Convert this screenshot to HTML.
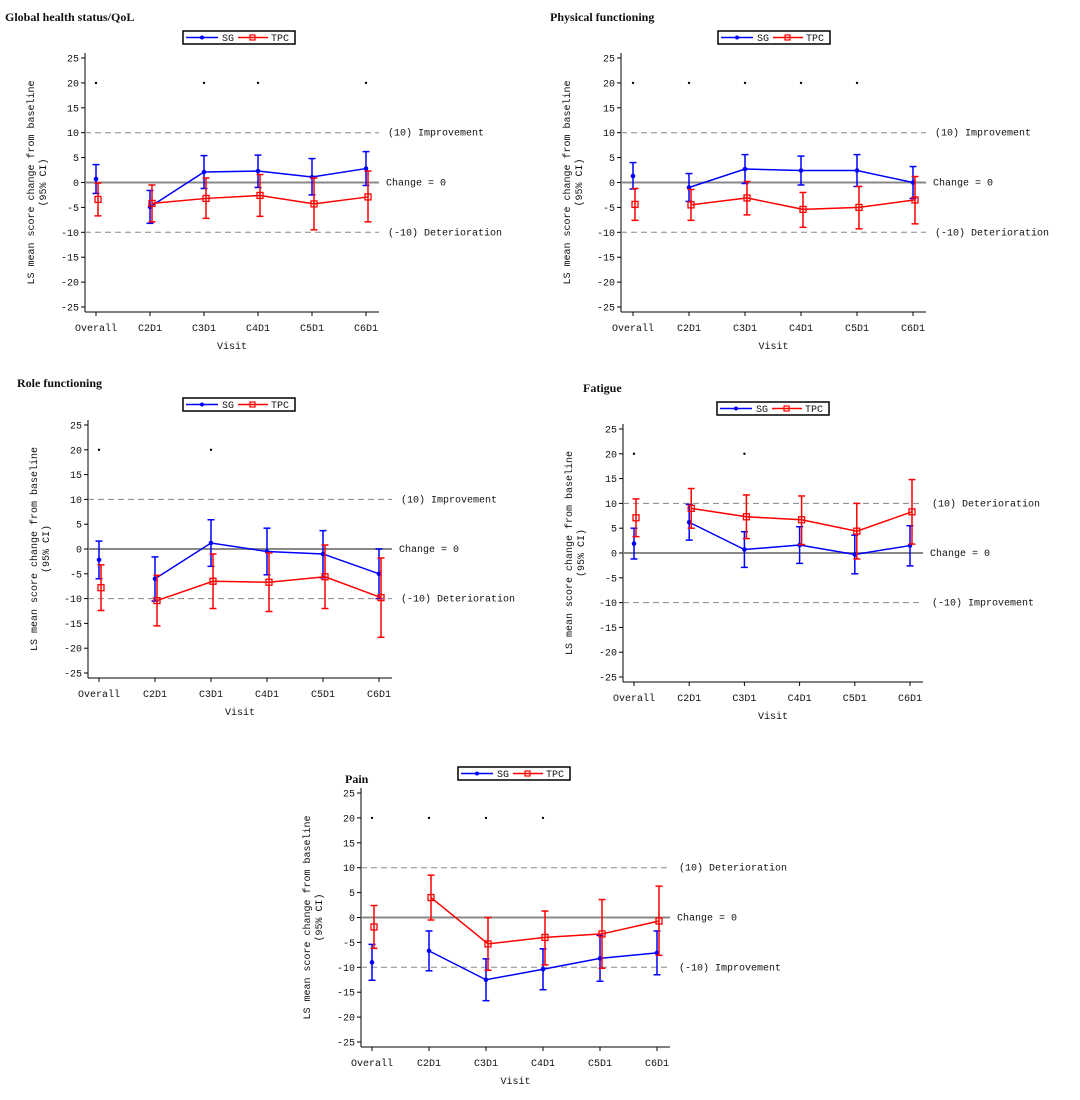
<!DOCTYPE html>
<html><head><meta charset="utf-8"><style>
body{margin:0;background:#fff;}
svg text{font-family:"Liberation Mono",monospace;font-size:10px;fill:#111;}
svg text.t{font-family:"Liberation Serif",serif;font-weight:bold;font-size:12px;}
</style></head><body>
<svg id="s" width="1080" height="1095" xmlns="http://www.w3.org/2000/svg"></svg>
<script>
const P=[
{title:"Global health status/QoL",tx:5,ty:21,ax:85,y25:58,yn25:307,x0:96,step:54,leg:[183,31],lab:["(10)  Improvement","(-10)  Deterioration"],stars:[0,2,3,5],
 sg:[[0.7,-2.2,3.6],[-4.9,-8.2,-1.6],[2.1,-1.2,5.4],[2.3,-1,5.5],[1.1,-2.5,4.8],[2.8,-0.6,6.2]],
 tpc:[[-3.4,-6.7,-0.1],[-4.2,-7.9,-0.5],[-3.2,-7.2,0.9],[-2.6,-6.8,1.6],[-4.3,-9.5,0.9],[-2.9,-7.9,2.3]]},
{title:"Physical functioning",tx:550,ty:21,ax:621,y25:58,yn25:307,x0:633,step:56,leg:[718,31],lab:["(10)  Improvement","(-10)  Deterioration"],stars:[0,1,2,3,4],
 sg:[[1.3,-1.3,4],[-1,-3.8,1.8],[2.7,-0.2,5.6],[2.4,-0.5,5.3],[2.4,-0.8,5.6],[0,-3.2,3.2]],
 tpc:[[-4.4,-7.6,-1.2],[-4.5,-7.6,-1.4],[-3.1,-6.5,0.2],[-5.4,-9,-2],[-5,-9.3,-0.8],[-3.5,-8.3,1.2]]},
{title:"Role functioning",tx:17,ty:387,ax:88,y25:425,yn25:673,x0:99,step:56,leg:[183,398],lab:["(10)  Improvement","(-10)  Deterioration"],stars:[0,2],
 sg:[[-2.2,-6,1.6],[-6,-10.5,-1.6],[1.2,-3.5,5.9],[-0.5,-5.2,4.2],[-1,-5.8,3.7],[-5,-10,0]],
 tpc:[[-7.8,-12.4,-3.2],[-10.4,-15.5,-5.3],[-6.5,-12,-1],[-6.7,-12.6,-0.8],[-5.6,-12,0.8],[-9.8,-17.8,-1.8]]},
{title:"Fatigue",tx:583,ty:392,ax:623,y25:429,yn25:677,x0:634,step:55.2,leg:[717,402],lab:["(10)  Deterioration","(-10)  Improvement"],stars:[0,2],
 sg:[[1.9,-1.2,5],[6.2,2.6,9.8],[0.7,-2.9,4.3],[1.6,-2.1,5.3],[-0.3,-4.2,3.6],[1.5,-2.6,5.5]],
 tpc:[[7.1,3.3,10.9],[9,5,13],[7.3,2.9,11.7],[6.7,1.7,11.5],[4.4,-1.2,10],[8.3,1.8,14.8]]},
{title:"Pain",tx:345,ty:783,ax:361,y25:793,yn25:1042,x0:372,step:57,leg:[458,767],lab:["(10)  Deterioration","(-10)  Improvement"],stars:[0,1,2,3],
 sg:[[-9,-12.6,-5.4],[-6.7,-10.7,-2.7],[-12.5,-16.7,-8.3],[-10.4,-14.5,-6.3],[-8.2,-12.8,-3.6],[-7.1,-11.5,-2.7]],
 tpc:[[-1.9,-6.2,2.4],[4,-0.5,8.5],[-5.3,-10.6,0],[-4,-9.5,1.3],[-3.3,-10.2,3.6],[-0.7,-7.6,6.3]]}
];
const V=["Overall","C2D1","C3D1","C4D1","C5D1","C6D1"];
let h="";
for(const p of P){
 const Y=v=>p.y25+(25-v)*(p.yn25-p.y25)/50;
 const X=i=>p.x0+i*p.step;
 const bot=p.yn25+5, right=X(5)+13;
 h+=`<text class="t" x="${p.tx}" y="${p.ty}">${p.title}</text>`;
 const [lx,ly]=p.leg;
 h+=`<rect x="${lx}" y="${ly}" width="112" height="13" fill="#fff" stroke="#000" stroke-width="1.5"/>
 <line x1="${lx+3}" y1="${ly+6.5}" x2="${lx+35}" y2="${ly+6.5}" stroke="#00f" stroke-width="1.5"/><circle cx="${lx+19}" cy="${ly+6.5}" r="2" fill="#00f"/>
 <text x="${lx+39}" y="${ly+10}">SG</text>
 <line x1="${lx+55}" y1="${ly+6.5}" x2="${lx+85}" y2="${ly+6.5}" stroke="#f00" stroke-width="1.5"/><rect x="${lx+67}" y="${ly+4}" width="5" height="5" fill="none" stroke="#f00" stroke-width="1.2"/>
 <text x="${lx+88}" y="${ly+10}">TPC</text>`;
 h+=`<line x1="${p.ax}" y1="${p.y25-5}" x2="${p.ax}" y2="${bot}" stroke="#000"/><line x1="${p.ax}" y1="${bot}" x2="${right}" y2="${bot}" stroke="#000"/>`;
 for(let v=25;v>=-25;v-=5){h+=`<line x1="${p.ax-4}" y1="${Y(v)}" x2="${p.ax}" y2="${Y(v)}" stroke="#000"/><text x="${p.ax-6}" y="${Y(v)+3.5}" text-anchor="end">${v}</text>`;}
 V.forEach((n,i)=>{h+=`<line x1="${X(i)}" y1="${bot}" x2="${X(i)}" y2="${bot+4}" stroke="#000"/><text x="${X(i)}" y="${bot+19}" text-anchor="middle">${n}</text>`;});
 h+=`<text x="${(p.ax+right)/2}" y="${bot+37}" text-anchor="middle">Visit</text>`;
 const cy=(p.y25+p.yn25)/2;
 h+=`<text transform="translate(${p.ax-51},${cy}) rotate(-90)" text-anchor="middle">LS mean score change from baseline</text><text transform="translate(${p.ax-39},${cy}) rotate(-90)" text-anchor="middle">(95% CI)</text>`;
 h+=`<line x1="${p.ax}" y1="${Y(10)}" x2="${right}" y2="${Y(10)}" stroke="#888" stroke-dasharray="6,4"/><line x1="${p.ax}" y1="${Y(-10)}" x2="${right}" y2="${Y(-10)}" stroke="#888" stroke-dasharray="6,4"/><line x1="${p.ax}" y1="${Y(0)}" x2="${right}" y2="${Y(0)}" stroke="#888" stroke-width="2"/>`;
 h+=`<text x="${right+9}" y="${Y(10)+3}">${p.lab[0]}</text><text x="${right+7}" y="${Y(0)+3}">Change = 0</text><text x="${right+9}" y="${Y(-10)+3}">${p.lab[1]}</text>`;
 for(const s of p.stars)h+=`<circle cx="${X(s)}" cy="${Y(20)}" r="1.2" fill="#000"/>`;
 const ser=(d,c,off,sq)=>{let pts=d.map((e,i)=>`${X(i)+off},${Y(e[0])}`);
  h+=`<polyline points="${pts.slice(1).join(' ')}" fill="none" stroke="${c}" stroke-width="1.5"/>`;
  d.forEach((e,i)=>{const x=X(i)+off;h+=`<line x1="${x}" y1="${Y(e[1])}" x2="${x}" y2="${Y(e[2])}" stroke="${c}" stroke-width="1.5"/><line x1="${x-3.5}" y1="${Y(e[1])}" x2="${x+3.5}" y2="${Y(e[1])}" stroke="${c}" stroke-width="1.5"/><line x1="${x-3.5}" y1="${Y(e[2])}" x2="${x+3.5}" y2="${Y(e[2])}" stroke="${c}" stroke-width="1.5"/>`;
   h+=sq?`<rect x="${x-3}" y="${Y(e[0])-3}" width="6" height="6" fill="none" stroke="${c}" stroke-width="1.3"/>`:`<circle cx="${x}" cy="${Y(e[0])}" r="2.3" fill="${c}"/>`;});};
 ser(p.sg,"#00f",0,false);ser(p.tpc,"#f00",2,true);
}
document.getElementById("s").innerHTML=h;
</script>
</body></html>
